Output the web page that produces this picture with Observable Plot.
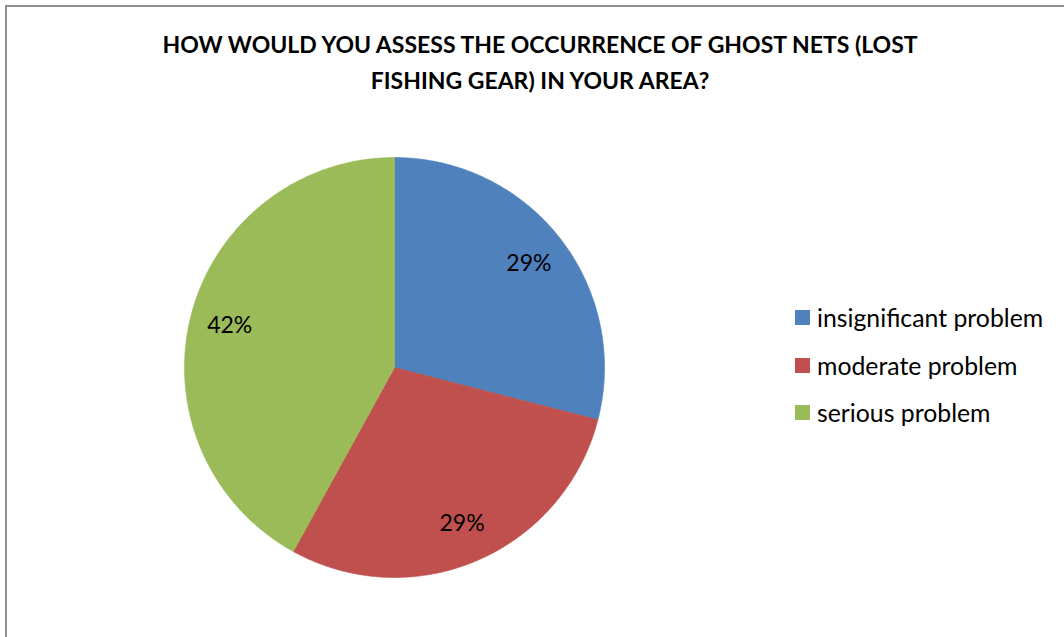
<!DOCTYPE html>
<html>
<head>
<meta charset="utf-8">
<script src="https://cdn.jsdelivr.net/npm/d3@7"></script>
<script src="https://cdn.jsdelivr.net/npm/@observablehq/plot@0.6"></script>
<style>
  html, body { margin: 0; padding: 0; background: #fff; overflow: hidden; }
  body { width: 1064px; height: 637px; position: relative; font-family: Lato, "Open Sans", sans-serif; color: #000; }
  #frame { position: absolute; left: 5px; top: 5px; width: 1200px; height: 800px; border: 2px solid #8e8e8e; box-sizing: border-box; }
  #chart { position: absolute; left: 0; top: 0; }
  #title { position: absolute; left: 0; top: 26px; width: 1080px; text-align: center; font-weight: bold; font-size: 23px; line-height: 36px; }
  #legend { position: absolute; left: 795px; top: 294px; }
  #legend .lg-swatches { font-family: Lato, sans-serif; font-size: 24.8px; color: #000; margin: 0; }
  #legend .lg-swatch { height: 47.5px; padding: 0; margin: 0; display: flex; align-items: center; }
  #legend .lg-swatch svg { margin-right: 7px; }
</style>
</head>
<body>
<div id="frame"></div>
<div id="chart"></div>
<div id="title">HOW WOULD YOU ASSESS THE OCCURRENCE OF GHOST NETS (LOST<br>FISHING GEAR) IN YOUR AREA?</div>
<div id="legend"></div>
<script>
// ---- data ----
const categories = ["insignificant problem", "moderate problem", "serious problem"];
const values = [29, 29, 42];
const labels = ["29%", "29%", "42%"];
const colors = ["#4F81BD", "#C0504D", "#9BBB59"];

// ---- build slices (angles measured clockwise from 12 o'clock) ----
const total = d3.sum(values);
const slices = [];
let acc = 0;
categories.forEach((c, i) => {
  const a0 = acc / total * 2 * Math.PI;
  acc += values[i];
  const a1 = acc / total * 2 * Math.PI;
  slices.push({cat: c, a0, a1, label: labels[i]});
});

const polyPoints = [];
for (const s of slices) {
  polyPoints.push({cat: s.cat, x: 0, y: 0});
  const n = Math.max(2, Math.ceil((s.a1 - s.a0) / (Math.PI / 360)));
  for (let k = 0; k <= n; k++) {
    const a = s.a0 + (s.a1 - s.a0) * k / n;
    polyPoints.push({cat: s.cat, x: Math.sin(a), y: Math.cos(a)});
  }
  polyPoints.push({cat: s.cat, x: 0, y: 0});
}

const labelPoints = slices.map(s => {
  const m = (s.a0 + s.a1) / 2;
  return {cat: s.cat, label: s.label, x: 0.81 * Math.sin(m), y: 0.81 * Math.cos(m)};
});

const chart = Plot.plot({
  width: 1064,
  height: 637,
  margin: 0,
  style: {background: "transparent", fontFamily: "Lato, sans-serif", overflow: "visible"},
  x: {domain: [-1, 1], range: [184, 604], axis: null},
  y: {domain: [-1, 1], range: [577, 157], axis: null},
  color: {domain: categories, range: colors},
  marks: [
    Plot.line(polyPoints, {x: "x", y: "y", z: "cat", fill: "cat", stroke: "cat", strokeWidth: 0.6, curve: "linear"}),
    Plot.text(labelPoints, {x: "x", y: "y", text: "label", fill: "#000", fontSize: 23, fontFamily: "Lato, sans-serif"})
  ]
});
document.getElementById("chart").appendChild(chart);

const legend = Plot.legend({
  color: {domain: categories, range: colors},
  legend: "swatches",
  columns: 1,
  swatchSize: 15,
  className: "lg"
});
document.getElementById("legend").appendChild(legend);
</script>
</body>
</html>
